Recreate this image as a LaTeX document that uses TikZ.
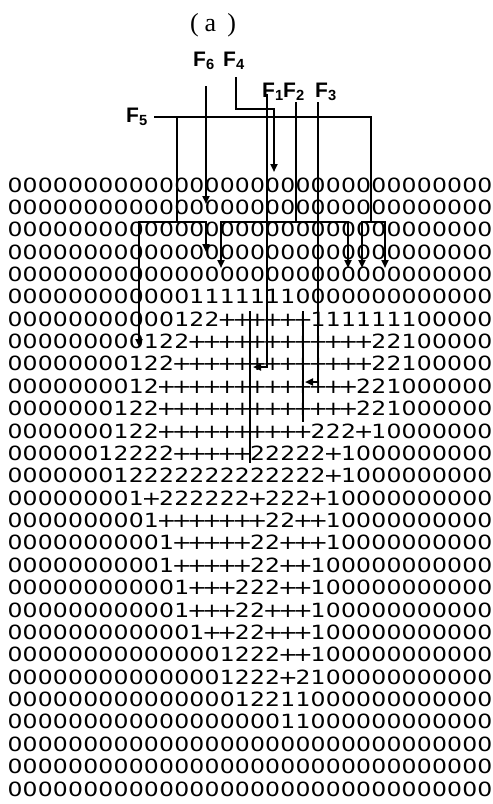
\documentclass[tikz,border=0pt]{standalone}
\usepackage{fontspec}
\setmainfont{Liberation Serif}
\newfontfamily\labelfont{Liberation Sans}
\newfontfamily\gridfont[FakeStretch=1.2]{DejaVu Sans}
\usetikzlibrary{arrows.meta}

% one row of the label map, one node per character
\newcount\gridcol
\def\gridstop{}
\newcommand\gridrow[2]{\gridcol=0 \def\gridrowno{#1}\gridchars#2\gridstop}
\def\gridchars#1{\ifx#1\gridstop\else
    \pgfmathsetmacro\gx{15+15.16*\the\gridcol}%
    \pgfmathsetmacro\gy{192+22.37*(\gridrowno-1)}%
    \node[cell, name=g\gridrowno-\the\gridcol] at (\gx,\gy) {#1};%
    \advance\gridcol by 1
    \expandafter\gridchars\fi}

\begin{document}
\begin{tikzpicture}[
    x=1pt, y=-1pt,
    >={Triangle[length=8pt,width=7pt]},
    cell/.style={
        font=\gridfont\fontsize{19.6}{19.6}\selectfont,
        inner sep=0pt,
        anchor=base
    },
    flabel/.style={
        font=\labelfont\bfseries\fontsize{21}{21}\selectfont,
        inner sep=0pt,
        anchor=base west
    },
    wire/.style={line width=2pt},
    arr/.style={->, line width=2pt}
]
    \useasboundingbox (0,0) rectangle (493,804);

    % Title
    \node[font=\fontsize{26}{26}\selectfont, inner sep=0pt, anchor=base]
        (title) at (213,31) {(\hspace{6pt}a\hspace{11pt})};

    % Label map
    \foreach \r in {1,...,5,26,27,28}
        {\gridrow{\r}{00000 00000 00000 00000 00000 00000 00}}
    \gridrow{6}{00000 00000 00 1111111 00000 00000 000}
    \gridrow{7}{00000 00000 0 122 ++++++ 1111111 00000}
    \gridrow{8}{00000 0000 122 +++++ +++++ ++ 221 00000}
    \gridrow{9}{00000 000 122 +++++ +++++ +++ 221 00000}
    \gridrow{10}{00000 000 12 +++++ +++++ +++ 221 00000 0}
    \gridrow{11}{00000 00 122 +++++ +++++ +++ 221 00000 0}
    \gridrow{12}{00000 00 122 +++++ +++++ 222+1 00000 00}
    \gridrow{13}{00000 0 12222 +++++ 22222+1 00000 0000}
    \gridrow{14}{00000 00 1 22222 22222 222 +1 00000 0000}
    \gridrow{15}{00000 000 1+222222+222+1 00000 00000}
    \gridrow{16}{00000 0000 1+++++++22++1 00000 00000}
    \gridrow{17}{00000 00000 1+++++22+++1 00000 00000}
    \gridrow{18}{00000 00000 1+++++22++1 00000 00000 0}
    \gridrow{19}{00000 00000 0 1+++222++1 00000 00000 0}
    \gridrow{20}{00000 00000 0 1+++22+++1 00000 00000 0}
    \gridrow{21}{00000 00000 00 1++22+++1 00000 00000 0}
    \gridrow{22}{00000 00000 0000 1222++1 00000 00000 0}
    \gridrow{23}{00000 00000 0000 1222+21 00000 00000 0}
    \gridrow{24}{00000 00000 00000 12211 00000 00000 00}
    \gridrow{25}{00000 00000 00000 000 11 00000 00000 00}

    % Labels
    \node[flabel] (f6) at (193,66) {F\textsubscript{6}};
    \node[flabel] (f4) at (223,66) {F\textsubscript{4}};
    \node[flabel] (f1) at (262,97) {F\textsubscript{1}};
    \node[flabel] (f2) at (283,97) {F\textsubscript{2}};
    \node[flabel] (f3) at (315,97) {F\textsubscript{3}};
    \node[flabel] (f5) at (126,122) {F\textsubscript{5}};

    % Path points
    \coordinate (f6a) at (206,86);
    \coordinate (f6b) at (206,204);
    \coordinate (f4a) at (236,77);
    \coordinate (f4b) at (236,109);
    \coordinate (f4c) at (274,109);
    \coordinate (f4d) at (274,172);
    \coordinate (f1a) at (267,94);
    \coordinate (f1b) at (267,367);
    \coordinate (f1c) at (253,367);
    \coordinate (f2a) at (296,102);
    \coordinate (f2b) at (296,222);
    \coordinate (f2l) at (221,222);
    \coordinate (f2r) at (348,222);
    \coordinate (f2lt) at (221,268);
    \coordinate (f2rt) at (348,268);
    \coordinate (f3a) at (318,102);
    \coordinate (f3b) at (318,382);
    \coordinate (f3c) at (305,382);
    \coordinate (f5a) at (154,117);
    \coordinate (f5m) at (177,117);
    \coordinate (f5r) at (371,117);
    \coordinate (f5m2) at (177,222);
    \coordinate (f5r2) at (371,222);
    \coordinate (f5l) at (139,222);
    \coordinate (f5lt) at (139,347);
    \coordinate (f5c) at (206,222);
    \coordinate (f5ct) at (206,252);
    \coordinate (f5p) at (362,222);
    \coordinate (f5pt) at (362,268);
    \coordinate (f5q) at (385,222);
    \coordinate (f5qt) at (385,268);
    \coordinate (cut1a) at (250,311);
    \coordinate (cut1b) at (250,463);
    \coordinate (cut2a) at (303,311);
    \coordinate (cut2b) at (303,422);

    % Connectors
    \draw[arr] (f6a) -- (f6b);
    \draw[arr] (f4a) -- (f4b) -- (f4c) -- (f4d);
    \draw[arr] (f1a) -- (f1b) -- (f1c);
    \draw[wire] (f2a) -- (f2b);
    \draw[arr, <->] (f2lt) -- (f2l) -- (f2r) -- (f2rt);
    \draw[arr] (f3a) -- (f3b) -- (f3c);
    \draw[wire] (f5a) -- (f5r) -- (f5r2);
    \draw[wire] (f5m) -- (f5m2);
    \draw[arr, <->] (f5lt) -- (f5l) -- (f5c) -- (f5ct);
    \draw[arr, <->] (f5pt) -- (f5p) -- (f5q) -- (f5qt);

    % Cut lines
    \draw[wire] (cut1a) -- (cut1b);
    \draw[wire] (cut2a) -- (cut2b);

\end{tikzpicture}
\end{document}
